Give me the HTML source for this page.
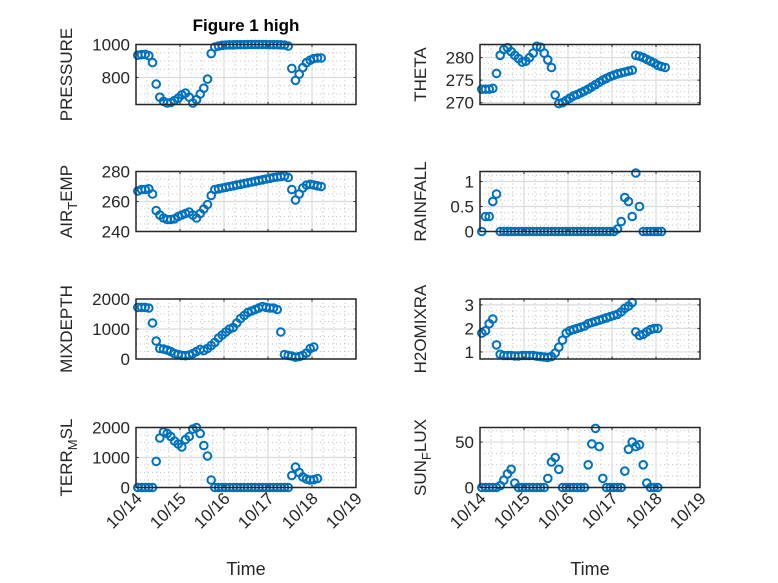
<!DOCTYPE html>
<html><head><meta charset="utf-8">
<style>
html,body{margin:0;padding:0;background:#fff;}
svg{display:block;font-family:"Liberation Sans","DejaVu Sans",sans-serif;}
</style></head>
<body>
<svg id="fig" width="778" height="583" viewBox="0 0 778 583">
<text x="246" y="31" text-anchor="middle" font-size="17" font-weight="bold" fill="#000">Figure 1 high</text>
</svg>
<script>
// shared time axis (hours since 10/14 00:00)
const times = [1,3,5,7,9,11,13,15,17,19,21,23,25,27,29,31,33,35,37,39,41,43,45,47,49,51,53,55,57,59,61,63,65,67,69,71,73,75,77,79,81,83,85,87,89,91,93,95,97,99,101];
const xTickLabels = ["10/14","10/15","10/16","10/17","10/18","10/19"];
const pressure = [935,938,940,932,890,760,680,655,645,648,660,675,695,705,680,645,665,700,735,790,945,985,990,995,997,998,998,999,999,999,1000,1000,1000,1000,1000,1000,999,999,999,998,997,990,855,782,820,860,890,905,915,918,918];
const theta = [273,273,273,273.2,276.5,280.5,281.8,282.2,281.3,280.5,279.8,279,279.2,280,281,282.5,282.3,281,279.5,277.8,271.7,269.8,270,270.5,271,271.5,271.8,272.2,272.6,273,273.5,274,274.5,275,275.4,275.8,276.1,276.4,276.6,276.8,277,277.2,280.5,280.3,280,279.6,279.2,278.8,278.3,278,277.8];
const airTemp = [267,268,268,268.5,265,254,251,249,248,248,248.5,250,251,252,253,251,249,252,255,258,264,268,268.5,269,269.5,270,270.5,271,271.5,272,272.5,273,273.5,274,274.5,275,275.5,276,276.3,276.6,277,276,268,261,265,269,271,271.5,271,270.5,270];
const rainfall = [0,0.3,0.3,0.6,0.75,0,0,0,0,0,0,0,0,0,0,0,0,0,0,0,0,0,0,0,0,0,0,0,0,0,0,0,0,0,0,0,0,0.05,0.2,0.68,0.6,0.3,1.17,0.5,0,0,0,0,0,0];
const mixDepth = [1720,1720,1720,1700,1200,600,350,330,300,250,180,150,120,110,130,180,250,320,280,350,450,550,700,800,900,1000,1050,1200,1350,1450,1550,1600,1650,1700,1750,1720,1700,1700,1650,900,150,120,100,60,80,120,200,350,400];
const h2oMix = [1.8,1.9,2.2,2.4,1.3,0.9,0.85,0.85,0.85,0.83,0.83,0.85,0.85,0.85,0.85,0.82,0.8,0.78,0.77,0.8,0.95,1.2,1.5,1.8,1.9,1.95,2.0,2.05,2.1,2.2,2.25,2.3,2.35,2.4,2.45,2.5,2.55,2.6,2.7,2.85,2.95,3.1,1.85,1.7,1.75,1.85,1.95,2.0,2.0];
const terrMsl = [0,0,0,0,0,870,1650,1850,1800,1700,1550,1450,1350,1600,1700,1950,2000,1800,1400,1050,250,0,0,0,0,0,0,0,0,0,0,0,0,0,0,0,0,0,0,0,0,0,400,680,500,350,280,250,260,300];
const sunFlux = [0,0,0,0,0,2,8,15,20,5,0,0,0,0,0,0,0,0,10,28,33,20,0,0,0,0,0,0,0,25,48,65,45,10,0,0,0,0,0,18,42,50,45,47,25,5,0,0,0];

const NS = "http://www.w3.org/2000/svg";
const svg = document.getElementById("fig");
function mk(tag, attrs, parent){ const e=document.createElementNS(NS,tag); for(const k in attrs) e.setAttribute(k,attrs[k]); (parent||svg).appendChild(e); return e; }

const panels = [
 {name:"pressure", label:["PRESSURE"], data:pressure, col:0,row:0, ylim:[636,1000], yticks:[800,1000], ytl:["800","1000"]},
 {name:"theta", label:["THETA"], data:theta, col:1,row:0, ylim:[269.6,282.9], yticks:[270,275,280], ytl:["270","275","280"]},
 {name:"air-temp", label:["AIR","T","EMP"], data:airTemp, col:0,row:1, ylim:[240,280], yticks:[240,260,280], ytl:["240","260","280"]},
 {name:"rainfall", label:["RAINFALL"], data:rainfall, col:1,row:1, ylim:[0,1.2], yticks:[0,0.5,1], ytl:["0","0.5","1"]},
 {name:"mixdepth", label:["MIXDEPTH"], data:mixDepth, col:0,row:2, ylim:[0,2000], yticks:[0,1000,2000], ytl:["0","1000","2000"]},
 {name:"h2omixra", label:["H2OMIXRA"], data:h2oMix, col:1,row:2, ylim:[0.7,3.25], yticks:[1,2,3], ytl:["1","2","3"]},
 {name:"terr-msl", label:["TERR","M","SL"], data:terrMsl, col:0,row:3, ylim:[0,2000], yticks:[0,1000,2000], ytl:["0","1000","2000"]},
 {name:"sun-flux", label:["SUN","F","LUX"], data:sunFlux, col:1,row:3, ylim:[0,66], yticks:[0,50], ytl:["0","50"]}
];
const colX=[136,480], W=220, rowY=[44.5,171.5,299,427.5], H=60;

panels.forEach(p=>{
  const x0=colX[p.col], y0=rowY[p.row];
  const g=mk("g",{});
  
  
  const xs=h=>x0+h/120*W;
  const ys=v=>y0+H-(v-p.ylim[0])/(p.ylim[1]-p.ylim[0])*H;
  for(let h=6;h<120;h+=6){ if(h%24===0) continue;
    mk("line",{x1:xs(h),x2:xs(h),y1:y0,y2:y0+H,stroke:"#b8b8b8","stroke-width":1,"stroke-dasharray":"1 3"},g); }
  const st=p.yticks[1]-p.yticks[0];
  for(let v=p.yticks[0]-st;v<=p.ylim[1];v+=st/4){ if(v<p.ylim[0]) continue;
    mk("line",{x1:x0,x2:x0+W,y1:ys(v),y2:ys(v),stroke:"#c4c4c4","stroke-width":1,"stroke-dasharray":"1 3"},g); }
  for(let d=1;d<5;d++) mk("line",{x1:xs(d*24),x2:xs(d*24),y1:y0,y2:y0+H,stroke:"#dcdcdc","stroke-width":1.2},g);
  p.yticks.forEach(v=>mk("line",{x1:x0,x2:x0+W,y1:ys(v),y2:ys(v),stroke:"#dcdcdc","stroke-width":1.2},g));
  p.data.forEach((v,i)=>{
    const c=mk("circle",{cx:xs(times[i]).toFixed(1),cy:ys(v).toFixed(1),r:3.8,fill:"none",stroke:"#0072BD","stroke-width":2},g);
    
    
  });
  mk("rect",{x:x0,y:y0,width:W,height:H,fill:"none",stroke:"#262626","stroke-width":1.5},g);
  for(let d=0;d<=5;d++){ const x=xs(d*24);
    mk("line",{x1:x,x2:x,y1:y0+H,y2:y0+H-2.5,stroke:"#262626","stroke-width":1},g);
    mk("line",{x1:x,x2:x,y1:y0,y2:y0+2.5,stroke:"#262626","stroke-width":1},g); }
  p.yticks.forEach((v,i)=>{ const y=ys(v);
    mk("line",{x1:x0,x2:x0+2.5,y1:y,y2:y,stroke:"#262626","stroke-width":1},g);
    mk("line",{x1:x0+W,x2:x0+W-2.5,y1:y,y2:y,stroke:"#262626","stroke-width":1},g);
    const t=mk("text",{x:x0-6,y:y+6,"text-anchor":"end","font-size":17,fill:"#262626"},g);
    t.textContent=p.ytl[i];
    
    
  });
  const lx = p.col===0 ? 72 : 426, ly=y0+H/2;
  const yl=mk("text",{x:lx,y:ly,"text-anchor":"middle","font-size":17,fill:"#262626",transform:`rotate(-90 ${lx} ${ly})`},g);
  
  
  if(p.label.length===1){ yl.textContent=p.label[0]; }
  else {
    const a=mk("tspan",{},yl); a.textContent=p.label[0];
    const b=mk("tspan",{dy:5,"font-size":13},yl); b.textContent=p.label[1];
    const c=mk("tspan",{dy:-5},yl); c.textContent=p.label[2];
  }
  if(p.row===3){
    xTickLabels.forEach((lab,d)=>{ const x=xs(d*24)+7, y=y0+H+12;
      const t=mk("text",{x:x,y:y,"text-anchor":"end","font-size":17,fill:"#262626",transform:`rotate(-45 ${x} ${y})`},g);
      t.textContent=lab;
      
      
    });
    const xt=mk("text",{x:x0+W/2,y:575,"text-anchor":"middle","font-size":18,fill:"#262626"},g);
    xt.textContent="Time";
    
    
  }
});
</script>
</body></html>
